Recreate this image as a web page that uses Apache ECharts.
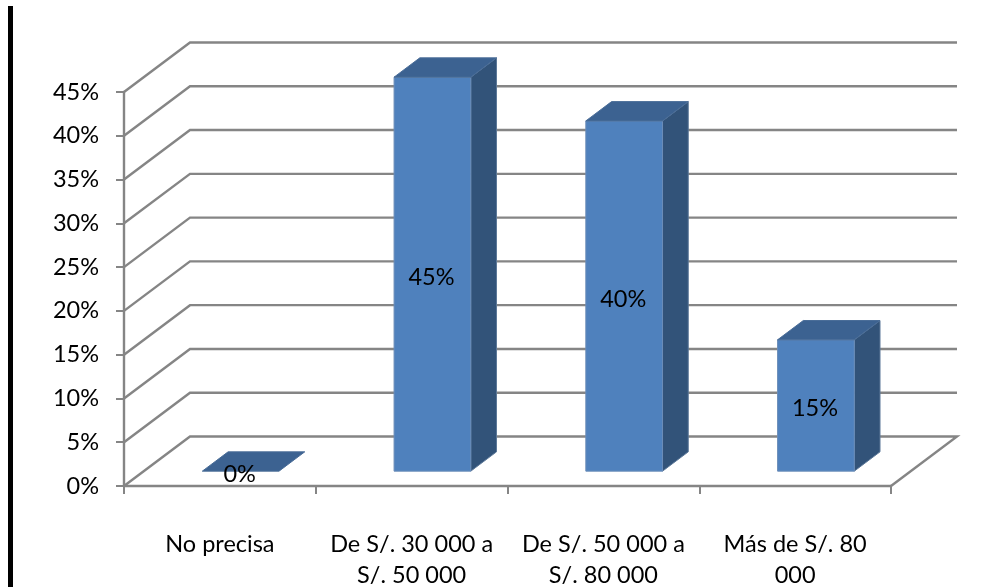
<!DOCTYPE html>
<html>
<head>
<meta charset="utf-8">
<style>html,body{margin:0;padding:0;background:#fff}#c{width:1007px;height:587px}</style>
<script src="https://cdn.jsdelivr.net/npm/echarts@6/dist/echarts.min.js"></script>
</head>
<body>
<div id="c"></div>
<script>
const categories = ['No precisa', 'De S/. 30 000 a\nS/. 50 000', 'De S/. 50 000 a\nS/. 80 000', 'Más de S/. 80\n000'];
const values = [0, 45, 40, 15];
const yTicks = [0, 5, 10, 15, 20, 25, 30, 35, 40, 45];

const FONT = 'Lato, "Open Sans", sans-serif';
const FS = 23.5;
const DX = 66, DY = -49.5;      // oblique depth of the floor
const Z0 = 0.30, Z1 = 0.69;     // bar front/back depth as a share of the floor
const BAR = 0.40;               // bar width as a share of a category
const NUDGE = 1;                // small sideways shift of the bars
const LINE = '#858585', LW = 2.4;

const chart = echarts.init(document.getElementById('c'), null, {renderer: 'canvas'});

function wallItem(params, api) {
  const v = api.value(1);
  const cs = params.coordSys;
  const y = api.coord([0, v])[1];
  const l = cs.x, r = cs.x + cs.width;
  const pts = [[l, y], [l + DX, y + DY], [r + DX, y + DY]];
  if (v === 0) pts.push([r, y]);
  return {type: 'polyline', shape: {points: pts}, silent: true,
    style: {fill: null, stroke: LINE, lineWidth: LW}};
}

function barItem(params, api) {
  const i = api.value(0), v = api.value(1);
  const base = api.coord([i, 0]);
  const top = api.coord([i, v]);
  const w = api.size([1, 0])[0] * BAR;
  const xL = base[0] - w / 2 + DX * Z0 + NUDGE, xR = xL + w;
  const yB = base[1] + DY * Z0, yT = top[1] + DY * Z0;
  const ox = DX * (Z1 - Z0), oy = DY * (Z1 - Z0);
  const children = [];
  if (v > 0) {
    children.push({type: 'polygon', shape: {points: [[xR, yT], [xR + ox, yT + oy], [xR + ox, yB + oy], [xR, yB]]},
      style: {fill: '#325379', stroke: '#5d7999', lineWidth: 1}});
    children.push({type: 'polygon', shape: {points: [[xL, yT], [xR, yT], [xR, yB], [xL, yB]]},
      style: {fill: '#4f81bd', stroke: '#6b8db8', lineWidth: 1}});
  }
  children.push({type: 'polygon', shape: {points: [[xL, yT], [xL + ox, yT + oy], [xR + ox, yT + oy], [xR, yT]]},
    style: {fill: '#3c6291', stroke: '#4a6d98', lineWidth: 1}});
  children.push({type: 'text', style: {x: (xL + xR) / 2 - 1, y: (yT + yB) / 2 + 3, text: v + '%',
    font: FS + 'px ' + FONT, fill: '#000', align: 'center', verticalAlign: 'middle'}});
  return {type: 'group', children};
}

chart.setOption({
  animation: false,
  backgroundColor: '#fff',
  grid: {left: 124, right: 116, top: 92, bottom: 101, containLabel: false, outerBoundsMode: 'none'},
  xAxis: {
    type: 'category', data: categories, boundaryGap: true,
    axisLine: {show: true, lineStyle: {color: LINE, width: LW}},
    axisTick: {show: true, alignWithLabel: false, length: 8, lineStyle: {color: LINE, width: 2}},
    axisLabel: {color: '#000', fontFamily: FONT, fontSize: FS, margin: 43, lineHeight: 31, interval: 0},
    splitLine: {show: false}
  },
  yAxis: {
    type: 'value', min: 0, max: 45, interval: 5,
    axisLine: {show: true, lineStyle: {color: LINE, width: LW}},
    axisTick: {show: true, length: 8, lineStyle: {color: LINE, width: 2}},
    axisLabel: {color: '#000', fontFamily: FONT, fontSize: FS, margin: 25, formatter: '{value}%'},
    splitLine: {show: false}
  },
  graphic: [{type: 'rect', shape: {x: 8, y: 6, width: 5, height: 581}, style: {fill: '#000'}, silent: true}],
  series: [
    {type: 'custom', coordinateSystem: 'cartesian2d', renderItem: wallItem, clip: false, z: 1,
     encode: {x: 0, y: 1}, data: yTicks.map(v => [0, v])},
    {type: 'custom', coordinateSystem: 'cartesian2d', renderItem: barItem, clip: false, z: 3,
     encode: {x: 0, y: 1}, data: values.map((v, i) => [i, v])}
  ]
});
</script>
</body>
</html>
